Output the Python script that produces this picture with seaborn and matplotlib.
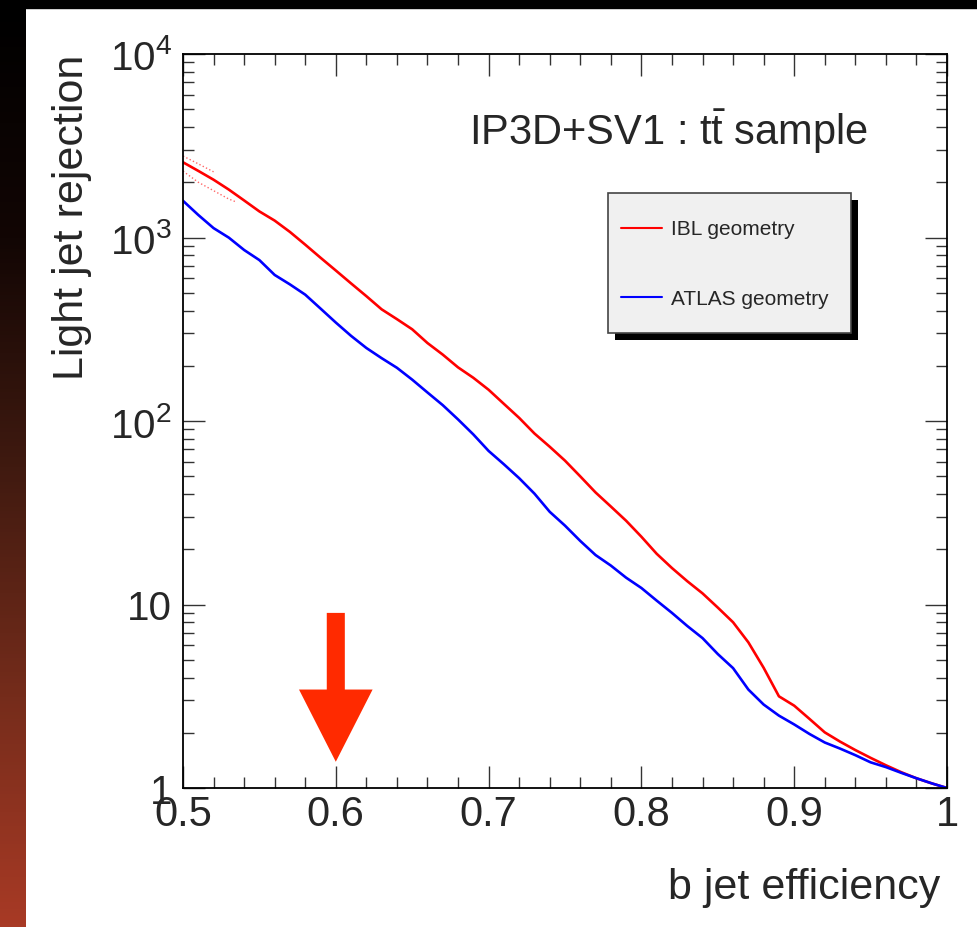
import numpy as np
import pandas as pd
import matplotlib
matplotlib.use("Agg")
import matplotlib.pyplot as plt
import seaborn as sns
from matplotlib import patheffects
from matplotlib.colors import LinearSegmentedColormap
from matplotlib.patches import Rectangle
from matplotlib.transforms import ScaledTranslation
from matplotlib.ticker import FixedLocator, FixedFormatter, MultipleLocator, LogLocator, NullFormatter

# b-jet efficiency grid and light-jet rejection
b_eff = [0.50, 0.51, 0.52, 0.53, 0.54, 0.55, 0.56, 0.57, 0.58, 0.59,
         0.60, 0.61, 0.62, 0.63, 0.64, 0.65, 0.66, 0.67, 0.68, 0.69,
         0.70, 0.71, 0.72, 0.73, 0.74, 0.75, 0.76, 0.77, 0.78, 0.79,
         0.80, 0.81, 0.82, 0.83, 0.84, 0.85, 0.86, 0.87, 0.88, 0.89,
         0.90, 0.91, 0.92, 0.93, 0.94, 0.95, 0.96, 0.97, 0.98, 0.99, 1.00]
ibl_rej = [2570, 2307, 2065, 1824, 1592, 1387, 1236, 1072, 914, 776,
           661, 562, 479, 406, 359, 316, 266, 230, 196, 172,
           148, 124, 104, 85.5, 72.4, 60.8, 49.9, 40.8, 34.2, 28.6,
           23.4, 18.9, 15.8, 13.4, 11.5, 9.62, 8.00, 6.22, 4.52, 3.16,
           2.81, 2.38, 2.01, 1.79, 1.61, 1.46, 1.33, 1.22, 1.13, 1.06, 1.00]
atlas_rej = [1585, 1327, 1125, 998, 855, 753, 625, 555, 488, 410,
             344, 291, 250, 220, 195, 168, 143, 122, 102, 84.5,
             68.7, 58.1, 48.8, 40.2, 32.0, 26.9, 22.2, 18.6, 16.3, 14.0,
             12.3, 10.5, 9.0, 7.64, 6.56, 5.37, 4.50, 3.44, 2.85, 2.48,
             2.22, 1.97, 1.77, 1.64, 1.51, 1.38, 1.30, 1.21, 1.13, 1.06, 1.00]

# dotted error band on the IBL curve at low efficiency
err_up_eff = [0.50, 0.51, 0.52]
err_up_rej = [2780, 2520, 2280]
err_lo_eff = [0.50, 0.51, 0.52, 0.53, 0.535]
err_lo_rej = [2300, 2000, 1800, 1620, 1560]

labels = ["IBL geometry", "ATLAS geometry"]
colors = ["#ff0000", "#0000ff"]
y_ticks = [1, 10, 100, 1000, 10000]
y_tick_labels = ["1", "10", r"$10^{2}$", r"$10^{3}$", r"$10^{4}$"]
x_ticks = [0.5, 0.6, 0.7, 0.8, 0.9, 1.0]
x_tick_labels = ["0.5", "0.6", "0.7", "0.8", "0.9", "1"]
arrow_eff = 0.6
arrow_top, arrow_tip = 9.0, 1.39

sns.set_style("ticks")
plt.rcParams["font.family"] = ["Liberation Sans", "DejaVu Sans"]
plt.rcParams["mathtext.fontset"] = "custom"
plt.rcParams["mathtext.rm"] = "Liberation Sans"
plt.rcParams["mathtext.it"] = "Liberation Sans:italic"
plt.rcParams["mathtext.bf"] = "Liberation Sans:bold"

df = pd.DataFrame({
    "eff": b_eff + b_eff,
    "rej": ibl_rej + atlas_rej,
    "geometry": [labels[0]] * len(b_eff) + [labels[1]] * len(b_eff),
})

fig = plt.figure(figsize=(9.77, 9.28), dpi=100)
fig.patch.set_facecolor("white")

# slide decoration: dark-to-red strip on the left, black band on top
strip = fig.add_axes([0, 0, 26 / 977, 1 - 9 / 928])
cmap = LinearSegmentedColormap.from_list(
    "strip", [(0, "#000000"), (0.25, "#120604"), (0.5, "#401a10"),
              (0.75, "#752c1b"), (1, "#a83a25")])
strip.imshow(np.linspace(0, 1, 256)[:, None], aspect="auto", cmap=cmap)
strip.axis("off")
fig.add_artist(Rectangle((0, 1 - 9 / 928), 1, 9 / 928, transform=fig.transFigure,
                         color="black", zorder=0))

ax = fig.add_axes([183 / 977, 1 - 789 / 928, (947 - 183) / 977, (789 - 55) / 928])
sns.lineplot(data=df, x="eff", y="rej", hue="geometry", hue_order=labels,
             palette=dict(zip(labels, colors)), lw=1.9, sort=False, ax=ax)
sns.lineplot(x=err_up_eff, y=err_up_rej, color="red", lw=1, ls=":", alpha=0.6,
             legend=False, ax=ax)
sns.lineplot(x=err_lo_eff, y=err_lo_rej, color="red", lw=1, ls=":", alpha=0.6,
             legend=False, ax=ax)

ax.set_yscale("log")
ax.set_xlim(0.5, 1.0)
ax.set_ylim(1, 1e4)

ax.xaxis.set_major_locator(FixedLocator(x_ticks))
ax.xaxis.set_major_formatter(FixedFormatter(x_tick_labels))
ax.xaxis.set_minor_locator(MultipleLocator(0.02))
ax.yaxis.set_major_locator(FixedLocator(y_ticks))
ax.yaxis.set_major_formatter(FixedFormatter(y_tick_labels))
ax.yaxis.set_minor_locator(LogLocator(base=10, subs=np.arange(2, 10)))
ax.yaxis.set_minor_formatter(NullFormatter())

ax.tick_params(which="both", direction="in", top=True, right=True,
               color="#333333", width=1)
ax.tick_params(which="major", length=15.8)
ax.tick_params(which="minor", length=7.9)
ax.tick_params(axis="x", which="major", labelsize=30, pad=4)
ax.tick_params(axis="y", which="major", labelsize=29, pad=8)
for s in ax.spines.values():
    s.set_linewidth(1.3)
    s.set_color("black")

ax.set_xlabel("b jet efficiency", fontsize=31, loc="right")
ax.xaxis.set_label_coords(0.991, -0.107)
ax.set_ylabel("Light jet rejection", fontsize=31, loc="top")
ax.yaxis.set_label_coords(-0.119, 1.0)

ax.text(0.897, 0.896, r"IP3D+SV1 : t$\bar{\mathrm{t}}$ sample", transform=ax.transAxes,
        fontsize=30, ha="right", va="center")

handles, _ = ax.get_legend_handles_labels()
leg = ax.legend(handles[:2], labels, loc="upper left",
                bbox_to_anchor=(0.5563, 0.6199, 0.3181, 0.1907), mode="expand",
                borderaxespad=0, fontsize=15, frameon=True, fancybox=False,
                facecolor="#f0f0f0", edgecolor="#444444", framealpha=1,
                borderpad=0.6, handleheight=3.0, labelspacing=1.12,
                handlelength=2.0, handletextpad=0.4)
leg.get_frame().set_linewidth(1.2)
leg.get_frame().set_path_effects([
    patheffects.SimplePatchShadow(offset=(5, -5), shadow_rgbFace="black", alpha=1),
    patheffects.Normal()])
# tall handle boxes lift the sample lines; bring them back to text height
for line in leg.get_lines():
    line.set_linewidth(1.5)
    line.set_transform(line.get_transform()
                       + ScaledTranslation(0, -5.5 / 72, fig.dpi_scale_trans))

ax.annotate("", xy=(arrow_eff, arrow_tip), xytext=(arrow_eff, arrow_top),
            arrowprops=dict(arrowstyle="simple,head_length=52,head_width=53,tail_width=13",
                            mutation_scale=1, color="#ff2a00", shrinkA=0, shrinkB=0,
                            lw=0))

fig.savefig("out.png", dpi=100)
